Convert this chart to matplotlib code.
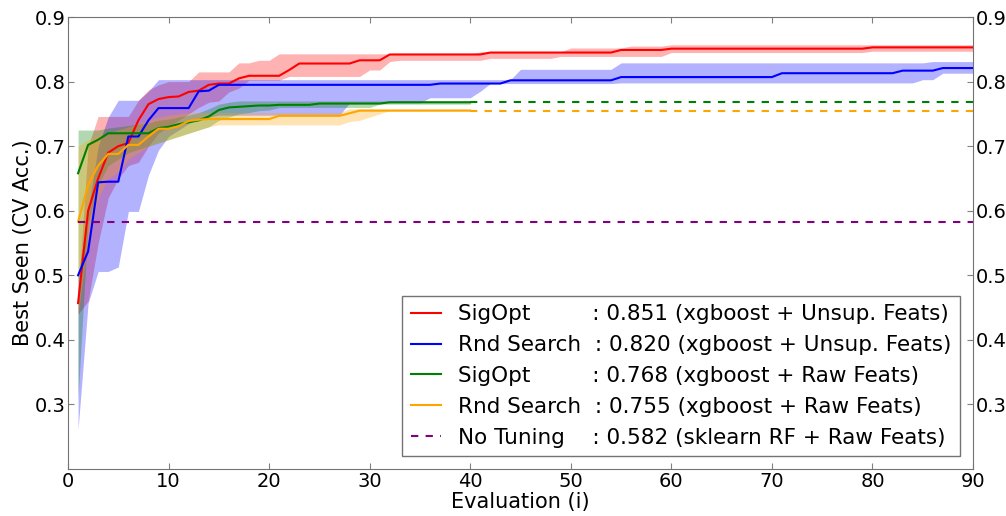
import matplotlib
matplotlib.use("Agg")
import matplotlib.pyplot as plt
from matplotlib.textpath import TextPath
import numpy as np

# SigOpt, xgboost + unsupervised features (90 evaluations)
so_unsup = ([0.457, 0.600, 0.650, 0.690, 0.700, 0.705, 0.740, 0.765, 0.773, 0.776,
             0.777, 0.784, 0.786, 0.795, 0.797, 0.797, 0.805, 0.809, 0.809, 0.809,
             0.809, 0.818, 0.828, 0.828, 0.828, 0.828, 0.828, 0.828, 0.833, 0.833,
             0.833] + [0.842] * 10 + [0.845] * 13 + [0.849] * 5 + [0.851] * 20 + [0.853] * 11)
so_unsup_hi = ([0.470, 0.700, 0.746, 0.746, 0.746, 0.746, 0.771, 0.787, 0.795, 0.800,
                0.800, 0.800, 0.815, 0.815, 0.815, 0.815, 0.829, 0.829, 0.833, 0.833]
               + [0.843] * 20 + [0.846] * 9 + [0.852] * 6 + [0.855] * 4 + [0.857] * 31)
so_unsup_lo = ([0.440, 0.460, 0.550, 0.620, 0.650, 0.670, 0.675, 0.700, 0.720, 0.730,
                0.740, 0.750, 0.760, 0.768, 0.770, 0.784, 0.790, 0.802, 0.802, 0.802,
                0.802] + [0.808] * 8 + [0.818, 0.818, 0.831] + [0.833] * 9 + [0.836] * 7
               + [0.839] * 11 + [0.845] * 20 + [0.847] * 11)

# random search, xgboost + unsupervised features
rs_unsup = ([0.500, 0.537, 0.644, 0.645, 0.645, 0.715, 0.715, 0.740, 0.759, 0.759,
             0.759, 0.759, 0.785, 0.786] + [0.795] * 22 + [0.797] * 7 + [0.802] * 11
            + [0.807] * 16 + [0.813] * 12 + [0.817] * 4 + [0.821] * 4)
rs_unsup_hi = ([0.500, 0.600, 0.700, 0.745, 0.771, 0.771, 0.771, 0.785]
               + [0.803] * 36 + [0.819] * 10 + [0.829] * 31 + [0.831] * 5)
rs_unsup_lo = ([0.261, 0.457, 0.506, 0.506, 0.513, 0.599, 0.599, 0.655, 0.694, 0.715,
                0.725, 0.735, 0.742, 0.745] + [0.748] * 13 + [0.767] * 8 + [0.775] * 5
               + [0.785] + [0.797] * 13 + [0.798] * 30 + [0.803] * 2 + [0.813] * 4)

# SigOpt, xgboost + raw features (40 evaluations)
so_raw = ([0.658, 0.702, 0.710, 0.720, 0.720, 0.720, 0.720, 0.720, 0.728, 0.730,
           0.734, 0.737, 0.740, 0.746, 0.756, 0.760, 0.761, 0.762, 0.763, 0.763]
          + [0.764] * 4 + [0.766] * 7 + [0.768] * 9)
so_raw_hi = ([0.725, 0.725, 0.725, 0.728, 0.730, 0.732, 0.734, 0.736, 0.740, 0.742,
              0.745, 0.748, 0.752, 0.758, 0.765, 0.768] + [0.770] * 24)
so_raw_lo = ([0.310, 0.580, 0.640, 0.670, 0.680, 0.690, 0.695, 0.700, 0.705, 0.710,
              0.715, 0.720, 0.725, 0.730, 0.740, 0.745, 0.750, 0.752, 0.755, 0.756]
             + [0.760] * 10 + [0.765] * 10)

# random search, xgboost + raw features
rs_raw = ([0.583, 0.640, 0.670, 0.688, 0.688, 0.702, 0.702, 0.715, 0.727, 0.727,
           0.731, 0.739, 0.741] + [0.742] * 7 + [0.747] * 7 + [0.751] + [0.755] * 12)
rs_raw_hi = ([0.700, 0.710, 0.715, 0.720, 0.725, 0.730, 0.735, 0.740, 0.745, 0.748,
              0.750] + [0.752] * 16 + [0.758] * 13)
rs_raw_lo = ([0.440, 0.550, 0.620, 0.650, 0.660, 0.680, 0.690, 0.700, 0.705, 0.710,
              0.715, 0.720, 0.725, 0.730] + [0.733] * 13 + [0.738, 0.740, 0.745, 0.750]
             + [0.755] * 9)

no_tuning = 0.582
final_scores = [0.851, 0.820, 0.768, 0.755, 0.582]
methods = ["SigOpt", "Rnd Search", "SigOpt", "Rnd Search", "No Tuning"]
setups = ["xgboost + Unsup. Feats", "xgboost + Unsup. Feats", "xgboost + Raw Feats",
          "xgboost + Raw Feats", "sklearn RF + Raw Feats"]

LEG_FS = 15.5


def padded(name, ref="Rnd Search  :"):
    # pad method names with spaces so the colons line up
    target = TextPath((0, 0), ref, size=LEG_FS).get_extents().width
    best = None
    for k in range(1, 20):
        w = TextPath((0, 0), name + " " * k + ":", size=LEG_FS).get_extents().width
        if best is None or abs(w - target) < best[0]:
            best = (abs(w - target), k)
    return name + " " * best[1]


labels = ["%s: %.3f (%s)" % (padded(m), v, s)
          for m, v, s in zip(methods, final_scores, setups)]

fig = plt.figure(figsize=(10.06, 5.16), dpi=100)
ax = fig.add_axes([0.0676, 0.091, 0.8996, 0.876])

x90 = np.arange(1, 91)
x40 = np.arange(1, 41)

series = [(x90, so_unsup, so_unsup_lo, so_unsup_hi, "red"),
          (x90, rs_unsup, rs_unsup_lo, rs_unsup_hi, "blue"),
          (x40, so_raw, so_raw_lo, so_raw_hi, "green"),
          (x40, rs_raw, rs_raw_lo, rs_raw_hi, "orange")]

for i, (xs, m, lo, hi, c) in enumerate(series):
    ax.fill_between(xs, lo, hi, color=c, alpha=0.3, linewidth=0)
    ax.plot(xs, m, color=c, lw=1.5, label=labels[i])
    if len(xs) < 90:
        ax.plot([xs[-1], 90], [m[-1], m[-1]], color=c, lw=1.5, ls=(0, (3.5, 3.5)))

ax.plot([1, 90], [no_tuning, no_tuning], color="purple", lw=1.5, ls=(0, (3.5, 3.5)),
        label=labels[4])

ax.set_xlim(0, 90)
ax.set_ylim(0.2, 0.9)
ax.set_xticks(range(0, 91, 10))
ax.set_yticks([0.3, 0.4, 0.5, 0.6, 0.7, 0.8, 0.9])
ax.tick_params(direction="in", top=True, right=True, labelright=True,
               labelsize=14, length=4, color="0.5", pad=2)
for s in ax.spines.values():
    s.set_color("0.45")
ax.set_xlabel("Evaluation (i)", fontsize=15, labelpad=1)
ax.set_ylabel("Best Seen (CV Acc.)", fontsize=15, labelpad=1)

leg = ax.legend(loc="lower right", fontsize=LEG_FS, handlelength=1.4,
                fancybox=False, framealpha=1, borderpad=0.4, labelspacing=0.5,
                borderaxespad=0.6)
leg.get_frame().set_edgecolor("0.45")

fig.savefig("out.png", dpi=100)
